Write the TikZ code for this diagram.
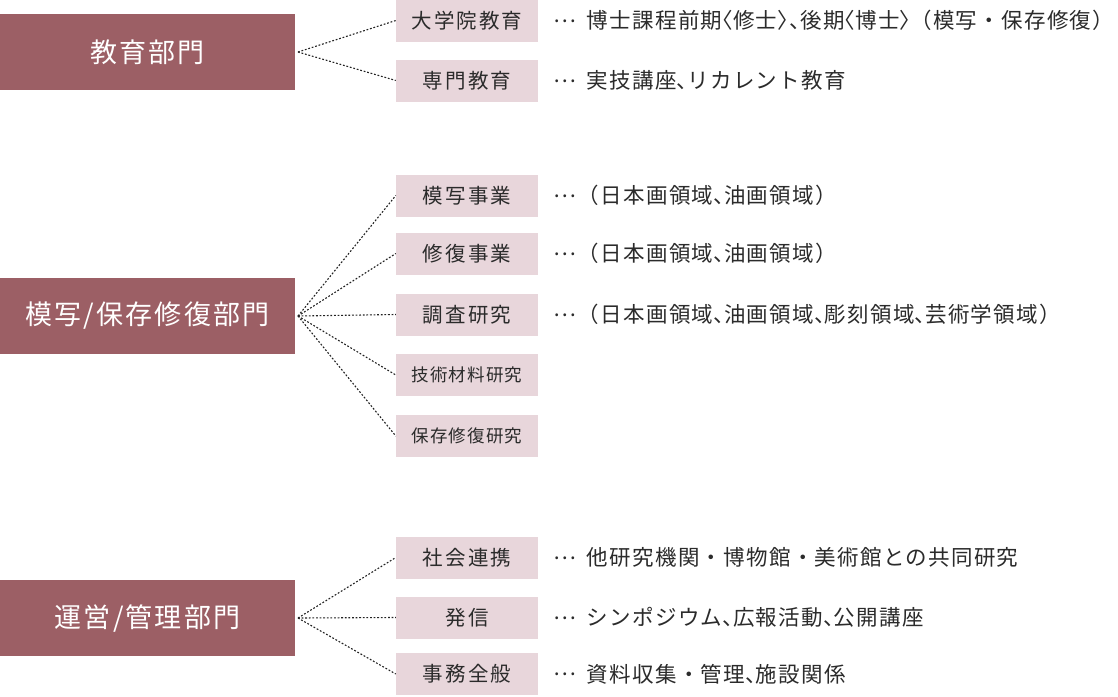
\documentclass[tikz,border=0pt]{standalone}
\usepackage{fontspec}
\setmainfont{Noto Sans CJK JP}
\newfontfamily\jpwide{Noto Sans CJK JP}[LetterSpace=8]
\newfontfamily\jpsub{Noto Sans CJK JP}[LetterSpace=10]
\newfontfamily\jpsmall{Noto Sans CJK JP}[LetterSpace=6]
\newfontfamily\jpdesc{Noto Sans CJK JP}[LetterSpace=6]
\newfontfamily\jphalf{Noto Sans CJK JP}[LetterSpace=6,RawFeature=+halt]
\newcommand{\hp}[1]{{\jphalf #1}}
\newcommand{\myell}{\raisebox{0.3em}{…}}
\definecolor{deptfill}{HTML}{9C5F65}
\definecolor{subfill}{HTML}{E8D6DB}
\definecolor{ink}{HTML}{2B2B2B}
\definecolor{linecol}{HTML}{222222}
\tikzset{
  dept/.style={fill=deptfill, text=white, minimum width=295pt, minimum height=76pt,
    inner sep=0pt, font=\jpwide\fontsize{27}{30}\selectfont},
  sub/.style={fill=subfill, text=ink, minimum width=142pt, minimum height=42pt,
    inner sep=0pt, font=\jpsub\fontsize{20.5}{24}\selectfont},
  subsmall/.style={sub, font=\jpsmall\fontsize{17.5}{21}\selectfont},
  desc/.style={anchor=west, text=ink, inner sep=0pt, font=\jpdesc\fontsize{21.5}{24}\selectfont},
  conn/.style={draw=linecol, line width=1.1pt, dash pattern=on 1.8pt off 1.8pt}
}
\begin{document}
\begin{tikzpicture}[x=1pt,y=-1pt]
\useasboundingbox (0,0) rectangle (1118,696);
% departments
\node[dept] (d1) at (147.5,52) {教育部門};
\node[dept] (d2) at (147.5,316) {模写/保存修復部門};
\node[dept] (d3) at (147.5,618) {運営/管理部門};
\coordinate (s1) at (298,52);
\coordinate (s2) at (298,316);
\coordinate (s3) at (298,618);
% group 1
\node[sub] (a1) at (467,20.5) {大学院教育};
\node[sub] (a2) at (467,80.5) {専門教育};
% group 2
\node[sub] (b1) at (467,195.5) {模写事業};
\node[sub] (b2) at (467,253.5) {修復事業};
\node[sub] (b3) at (467,314.5) {調査研究};
\node[subsmall] (b4) at (467,375) {技術材料研究};
\node[subsmall] (b5) at (467,436) {保存修復研究};
% group 3
\node[sub] (c1) at (467,557.5) {社会連携};
\node[sub] (c2) at (467,617.5) {発信};
\node[sub] (c3) at (467,674) {事務全般};
% connectors
\foreach \t in {a1,a2} \draw[conn] (s1) -- (\t.west);
\foreach \t in {b1,b2,b3,b4,b5} \draw[conn] (s2) -- (\t.west);
\foreach \t in {c1,c2,c3} \draw[conn] (s3) -- (\t.west);
% descriptions
\node[desc] (ta1) at (553,20.5) {\myell\hspace{11pt}博士課程前期\hp{〈}修士\hp{〉}\hp{、}後期\hp{〈}博士\hp{〉}（模写・保存修復）};
\node[desc] (ta2) at (553,80.5) {\myell\hspace{11pt}実技講座\hp{、}リカレント教育};
\node[desc] (tb1) at (553,195.5) {\myell\hspace{2pt}（日本画領域\hp{、}油画領域）};
\node[desc] (tb2) at (553,253.5) {\myell\hspace{2pt}（日本画領域\hp{、}油画領域）};
\node[desc] (tb3) at (553,314.5) {\myell\hspace{2pt}（日本画領域\hp{、}油画領域\hp{、}彫刻領域\hp{、}芸術学領域）};
\node[desc] (tc1) at (553,557.5) {\myell\hspace{11pt}他研究機関・博物館・美術館との共同研究};
\node[desc] (tc2) at (553,617.5) {\myell\hspace{11pt}シンポジウム\hp{、}広報活動\hp{、}公開講座};
\node[desc] (tc3) at (553,674) {\myell\hspace{11pt}資料収集・管理\hp{、}施設関係};
\end{tikzpicture}
\end{document}
